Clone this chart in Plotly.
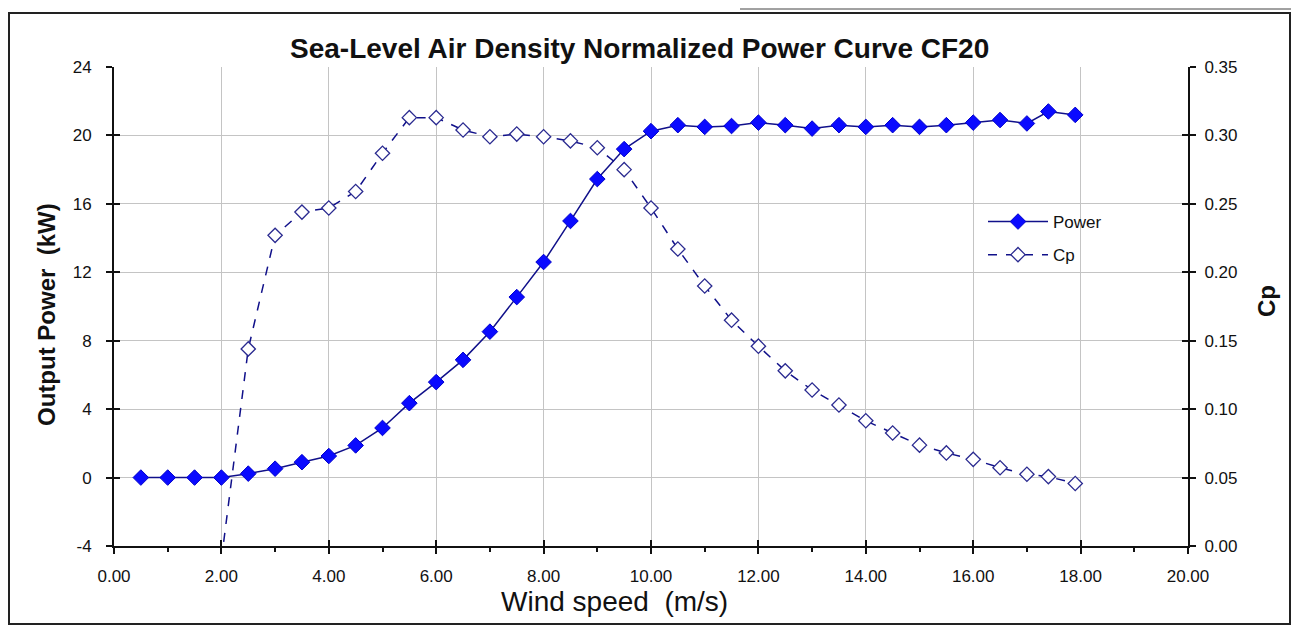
import plotly.graph_objects as go

# ---- data ----
power_ws = [0.5, 1.0, 1.5, 2.0, 2.5, 3.0, 3.5, 4.0, 4.5, 5.0, 5.5, 6.0, 6.5, 7.0, 7.5, 8.0,
            8.5, 9.0, 9.5, 10.0, 10.5, 11.0, 11.5, 12.0, 12.5, 13.0, 13.5, 14.0, 14.5, 15.0,
            15.5, 16.0, 16.5, 17.0, 17.4, 17.9]
power_kw = [0.0, 0.0, 0.0, 0.0, 0.23, 0.52, 0.9, 1.26, 1.88, 2.9, 4.35, 5.58, 6.88, 8.53, 10.55, 12.6,
            15.0, 17.45, 19.2, 20.25, 20.6, 20.5, 20.55, 20.75, 20.6, 20.4, 20.6, 20.5, 20.6, 20.5,
            20.6, 20.75, 20.9, 20.7, 21.4, 21.2]

cp_ws = [2.0, 2.5, 3.0, 3.5, 4.0, 4.5, 5.0, 5.5, 6.0, 6.5, 7.0, 7.5, 8.0,
         8.5, 9.0, 9.5, 10.0, 10.5, 11.0, 11.5, 12.0, 12.5, 13.0, 13.5, 14.0, 14.5, 15.0,
         15.5, 16.0, 16.5, 17.0, 17.4, 17.9]
cp_vals = [-0.01, 0.144, 0.227, 0.244, 0.247, 0.259, 0.287, 0.313, 0.313, 0.304, 0.299, 0.301, 0.299,
           0.296, 0.291, 0.275, 0.247, 0.217, 0.190, 0.165, 0.146, 0.128, 0.114, 0.103, 0.0915, 0.0826, 0.0737,
           0.068, 0.0633, 0.0572, 0.0524, 0.0507, 0.0457]

x_ticks = [0, 2, 4, 6, 8, 10, 12, 14, 16, 18, 20]
y_left_ticks = [-4, 0, 4, 8, 12, 16, 20, 24]
y_left_labels = ["-4", "0", "4", "8", "12", "16", "20", "24"]
y_right_ticks = [0.0, 0.05, 0.10, 0.15, 0.20, 0.25, 0.30, 0.35]

TICK_FONT = dict(family="Liberation Sans, Arial", size=17, color="#111111")
LINE_NAVY = "#10108a"
AX = "#111111"
GRID = "#c4c4c4"

# page body has an 8px margin, so reference pixel p sits at figure pixel p-8
OFF = 8
W, H = 1299 - OFF, 633 - OFF
PL, PR, PT, PB = 114, 1188, 67, 546          # plot-area edges in reference pixels
L, T = PL - OFF, PT - OFF
R, B = W - (PR - OFF), H - (PB - OFF)
pw, ph = PR - PL, PB - PT

def px(xp):
    return (xp - PL) / pw

def py(yp):
    return (PB - yp) / ph

fig = go.Figure()
fig.add_trace(go.Scatter(
    x=power_ws, y=power_kw, name="Power", mode="lines+markers", legendgroup="p",
    line=dict(color=LINE_NAVY, width=1.5),
    marker=dict(symbol="diamond", size=12, color="#0a0aff", line=dict(color="#0000cc", width=1)),
    yaxis="y", cliponaxis=True))
fig.add_trace(go.Scatter(
    x=cp_ws, y=cp_vals, name="Cp", mode="lines+markers", legendgroup="c",
    line=dict(color=LINE_NAVY, width=1.5, dash="dash"),
    marker=dict(symbol="diamond", size=11, color="white", line=dict(color="#2a2a90", width=1.3)),
    yaxis="y2", cliponaxis=True))

fig.update_layout(
    width=W, height=H,
    margin=dict(l=L, r=R, t=T, b=B),
    paper_bgcolor="white", plot_bgcolor="white",
    font=dict(family="Liberation Sans, Arial", color="#111111"),
    showlegend=True,
    legend=dict(x=px(983), y=py(204), xanchor="left", yanchor="top",
                bgcolor="rgba(255,255,255,0)", font=dict(size=17, family="Liberation Sans, Arial"),
                itemwidth=60, tracegroupgap=8),
    xaxis=dict(range=[0, 20], tickvals=x_ticks, tickformat=".2f",
               showgrid=True, gridcolor=GRID, gridwidth=1,
               showline=True, linecolor=AX, linewidth=2,
               ticks="outside", ticklen=6, tickwidth=1.5, tickcolor=AX,
               minor=dict(dtick=1, ticks="outside", ticklen=4, tickcolor=AX, showgrid=False),
               tickfont=TICK_FONT, ticklabelstandoff=8, zeroline=False),
    xaxis2=dict(range=[0, 20], tickvals=x_ticks, overlaying="x", anchor="y", side="bottom",
                showticklabels=False, showgrid=False, showline=False, zeroline=False,
                ticks="inside", ticklen=6, tickwidth=1.5, tickcolor=AX),
    yaxis=dict(range=[-4, 24], tickvals=y_left_ticks, ticktext=y_left_labels,
               showgrid=True, gridcolor=GRID, gridwidth=1,
               showline=True, linecolor=AX, linewidth=2,
               ticks="outside", ticklen=6, tickwidth=1.5, tickcolor=AX,
               tickfont=TICK_FONT, ticklabelstandoff=11, zeroline=False),
    yaxis2=dict(range=[0, 0.35], tickvals=y_right_ticks, tickformat=".2f",
                overlaying="y", side="right", showgrid=False,
                showline=True, linecolor=AX, linewidth=2,
                ticks="outside", ticklen=6, tickwidth=1.5, tickcolor=AX,
                tickfont=TICK_FONT, ticklabelstandoff=5, zeroline=False),
    yaxis3=dict(range=[-4, 24], tickvals=y_left_ticks, overlaying="y", side="left", anchor="x",
                showticklabels=False, showgrid=False, showline=False, zeroline=False,
                ticks="inside", ticklen=6, tickwidth=1.5, tickcolor=AX),
    yaxis4=dict(range=[0, 0.35], tickvals=y_right_ticks, overlaying="y", side="right", anchor="x",
                showticklabels=False, showgrid=False, showline=False, zeroline=False,
                ticks="inside", ticklen=6, tickwidth=1.5, tickcolor=AX),
    shapes=[
        dict(type="rect", xref="paper", yref="paper",
             x0=px(9), x1=px(1290), y0=py(624), y1=py(13),
             line=dict(color="#222222", width=2), fillcolor="rgba(0,0,0,0)"),
        dict(type="line", xref="paper", yref="paper",
             x0=px(740), x1=px(1299), y0=py(9), y1=py(9),
             line=dict(color="#444444", width=1)),
    ],
    annotations=[
        dict(text="<b>Sea-Level Air Density Normalized Power Curve CF20</b>",
             xref="paper", yref="paper", x=px(639), y=py(48), showarrow=False,
             xanchor="center", yanchor="middle", font=dict(size=28, color="#111111")),
        dict(text="<b>Output Power  (kW)</b>", textangle=-90,
             xref="paper", yref="paper", x=px(46), y=py(315), showarrow=False,
             xanchor="center", yanchor="middle", font=dict(size=24, color="#111111")),
        dict(text="<b>Cp</b>", textangle=-90,
             xref="paper", yref="paper", x=px(1266), y=py(301), showarrow=False,
             xanchor="center", yanchor="middle", font=dict(size=24, color="#111111")),
        dict(text="Wind speed  (m/s)",
             xref="paper", yref="paper", x=px(614), y=py(601), showarrow=False,
             xanchor="center", yanchor="middle", font=dict(size=28, color="#111111")),
    ],
)

# invisible anchors so the overlay tick axes are drawn
fig.add_trace(go.Scatter(x=[None], y=[None], xaxis="x2", yaxis="y3", showlegend=False, hoverinfo="skip"))
fig.add_trace(go.Scatter(x=[None], y=[None], xaxis="x", yaxis="y4", showlegend=False, hoverinfo="skip"))

fig.write_html("out.html")
